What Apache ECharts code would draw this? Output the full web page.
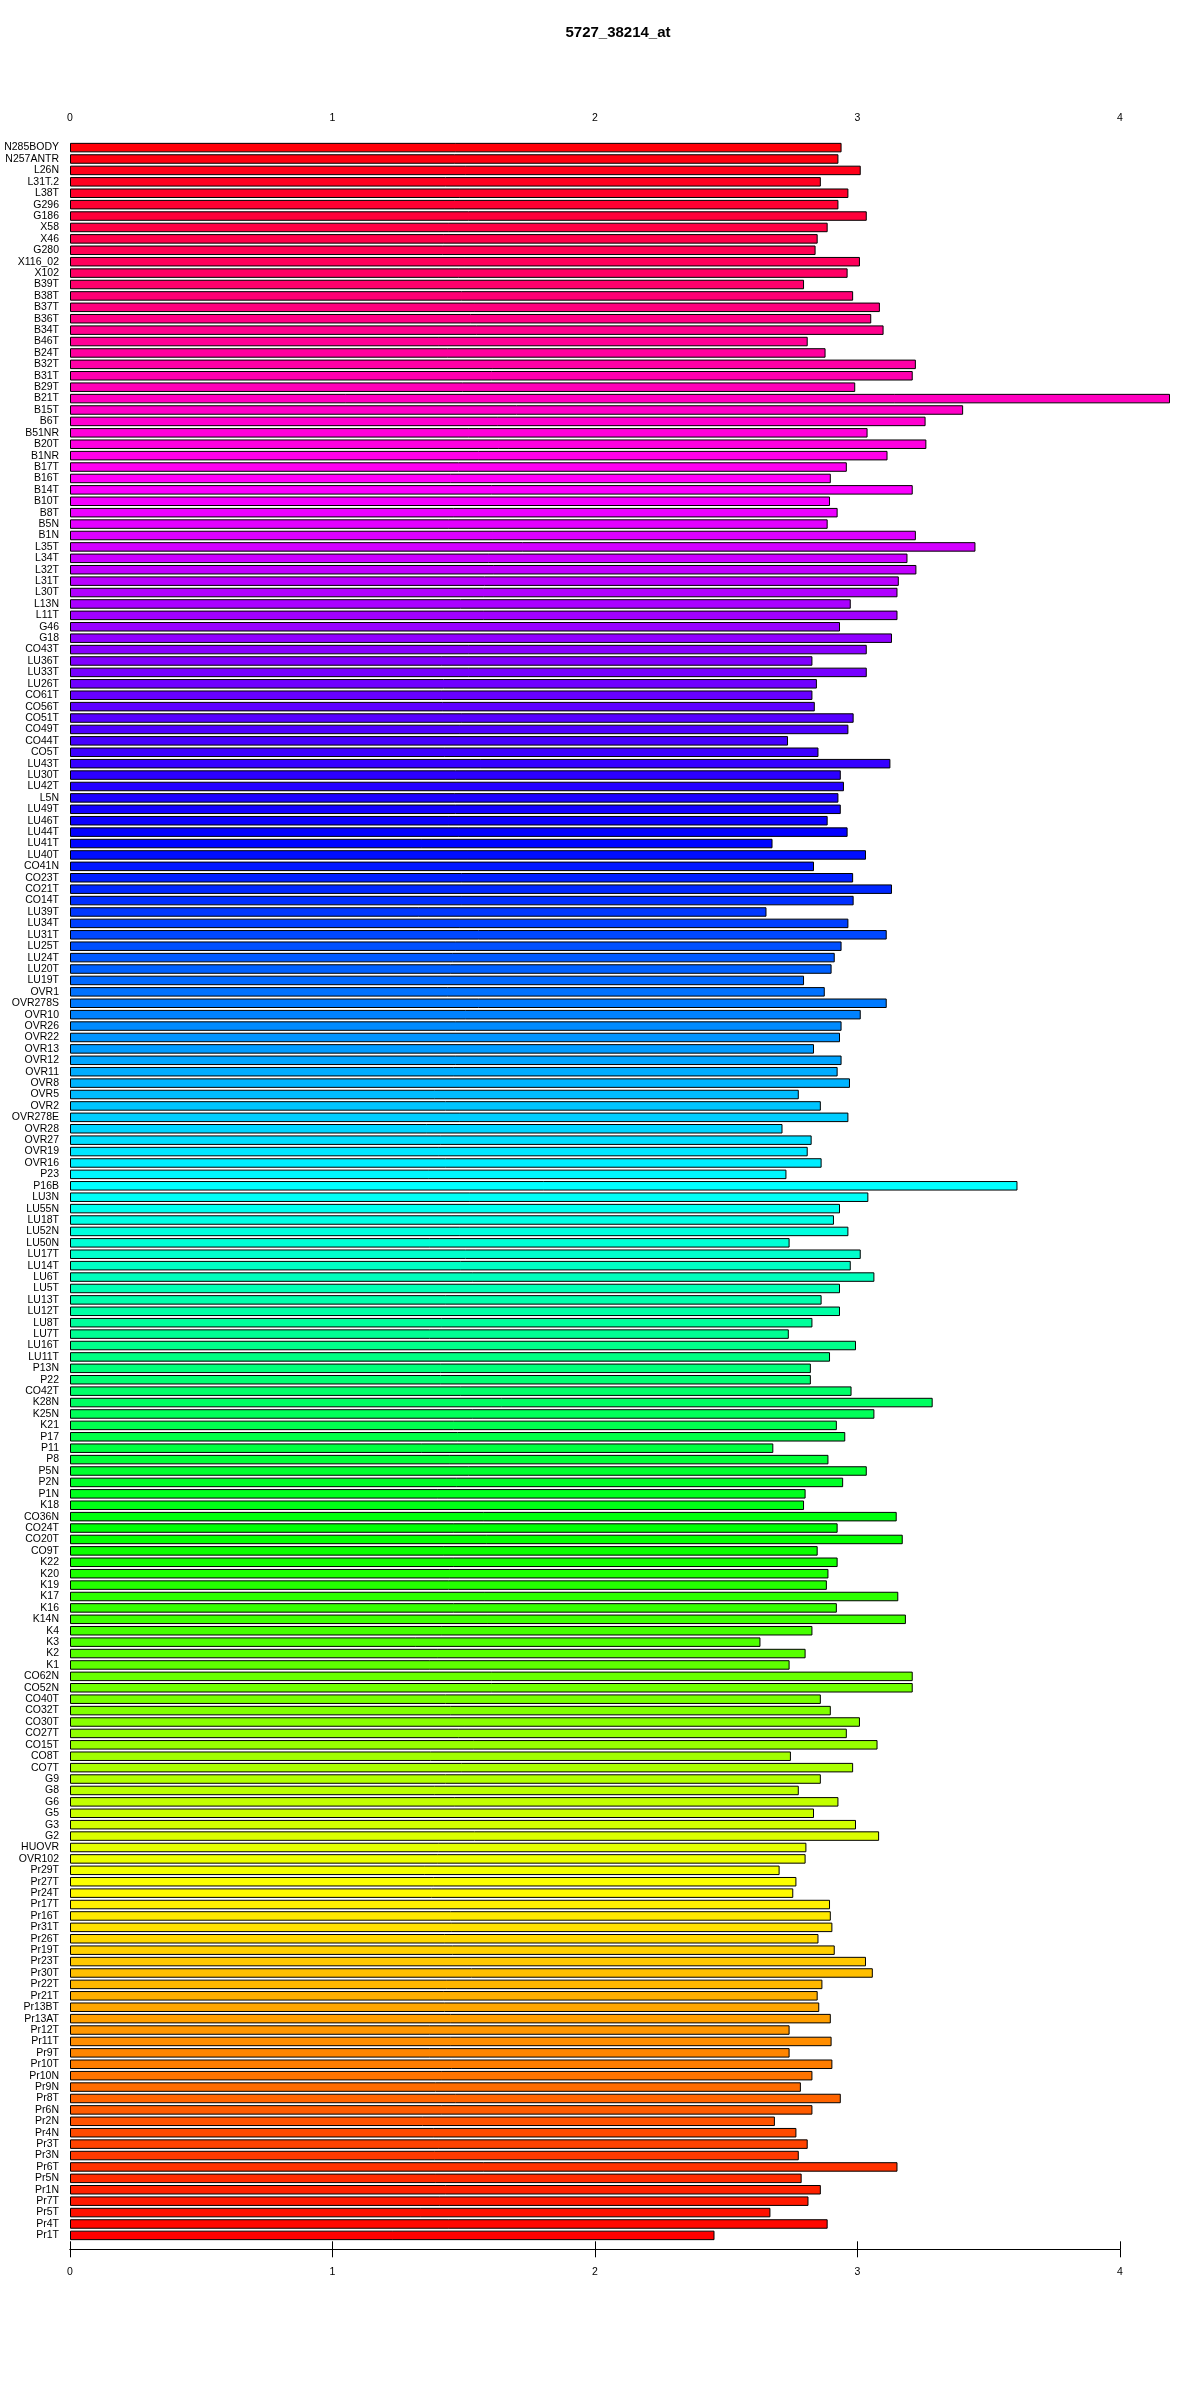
<!DOCTYPE html>
<html><head><meta charset="utf-8">
<script src="https://cdn.jsdelivr.net/npm/echarts@6/dist/echarts.min.js"></script>
<style>html,body{margin:0;padding:0;background:#fff}#c{width:1200px;height:2400px}</style>
</head><body><div id="c"></div>
<script>
const chartTitle = '5727_38214_at';
const categories = [
'N285BODY','N257ANTR','L26N','L31T.2','L38T','G296',
'G186','X58','X46','G280','X116_02','X102','B39T','B38T','B37T','B36T','B34T','B46T','B24T','B32T','B31T','B29T','B21T','B15T',
'B6T','B51NR','B20T','B1NR','B17T','B16T','B14T','B10T','B8T','B5N','B1N','L35T','L34T','L32T','L31T','L30T','L13N',
'L11T','G46','G18','CO43T','LU36T','LU33T','LU26T','CO61T','CO56T','CO51T','CO49T','CO44T','CO5T','LU43T','LU30T','LU42T','L5N',
'LU49T','LU46T','LU44T','LU41T','LU40T','CO41N','CO23T','CO21T','CO14T','LU39T','LU34T','LU31T','LU25T','LU24T','LU20T','LU19T','OVR1','OVR278S',
'OVR10','OVR26','OVR22','OVR13','OVR12','OVR11','OVR8','OVR5','OVR2','OVR278E','OVR28','OVR27','OVR19','OVR16','P23','P16B','LU3N',
'LU55N','LU18T','LU52N','LU50N','LU17T','LU14T','LU6T','LU5T','LU13T','LU12T','LU8T','LU7T','LU16T','LU11T','P13N','P22','CO42T','K28N',
'K25N','K21','P17','P11','P8','P5N','P2N','P1N','K18','CO36N','CO24T','CO20T','CO9T','K22','K20','K19','K17','K16',
'K14N','K4','K3','K2','K1','CO62N','CO52N','CO40T','CO32T','CO30T','CO27T','CO15T','CO8T','CO7T','G9','G8','G6',
'G5','G3','G2','HUOVR','OVR102','Pr29T','Pr27T','Pr24T','Pr17T','Pr16T','Pr31T','Pr26T','Pr19T','Pr23T','Pr30T','Pr22T','Pr21T','Pr13BT',
'Pr13AT','Pr12T','Pr11T','Pr9T','Pr10T','Pr10N','Pr9N','Pr8T','Pr6N','Pr2N','Pr4N','Pr3T','Pr3N','Pr6T','Pr5N','Pr1N','Pr7T',
'Pr5T','Pr4T','Pr1T'
];
const values = [
2.939,2.927,3.012,2.860,2.965,2.927,
3.035,2.886,2.848,2.840,3.009,2.962,2.796,2.983,3.085,3.052,3.099,2.810,2.878,3.222,3.210,2.991,4.190,3.402,
3.259,3.038,3.262,3.114,2.959,2.898,3.210,2.895,2.924,2.886,3.222,3.449,3.190,3.224,3.157,3.152,2.974,
3.152,2.933,3.131,3.035,2.828,3.035,2.845,2.828,2.837,2.985,2.965,2.735,2.851,3.125,2.936,2.948,2.927,
2.936,2.886,2.962,2.676,3.032,2.834,2.983,3.131,2.985,2.653,2.965,3.111,2.939,2.913,2.901,2.796,2.875,3.111,
3.012,2.939,2.933,2.834,2.939,2.924,2.971,2.776,2.860,2.965,2.714,2.825,2.810,2.863,2.729,3.609,3.041,
2.933,2.910,2.965,2.741,3.012,2.974,3.064,2.933,2.863,2.933,2.828,2.738,2.994,2.895,2.822,2.822,2.977,3.286,
3.064,2.921,2.953,2.679,2.889,3.035,2.945,2.802,2.796,3.149,2.924,3.172,2.848,2.924,2.889,2.883,3.155,2.921,
3.184,2.828,2.630,2.802,2.741,3.210,3.210,2.860,2.898,3.009,2.959,3.076,2.746,2.983,2.860,2.776,2.927,
2.834,2.994,3.082,2.805,2.802,2.703,2.767,2.755,2.895,2.898,2.904,2.851,2.913,3.032,3.058,2.866,2.848,2.854,
2.898,2.741,2.901,2.741,2.904,2.828,2.784,2.936,2.828,2.685,2.767,2.810,2.776,3.152,2.787,2.860,2.813,
2.668,2.886,2.455
];
const tickValues = [0, 1, 2, 3, 4];

function hsv(h) {
  h = ((h % 360) + 360) % 360;
  const c = 1, x = c * (1 - Math.abs((h / 60) % 2 - 1));
  let r, g, b;
  if (h < 60) [r, g, b] = [c, x, 0];
  else if (h < 120) [r, g, b] = [x, c, 0];
  else if (h < 180) [r, g, b] = [0, c, x];
  else if (h < 240) [r, g, b] = [0, x, c];
  else if (h < 300) [r, g, b] = [x, 0, c];
  else [r, g, b] = [c, 0, x];
  const t = v => Math.round(v * 255).toString(16).padStart(2, '0');
  return '#' + t(r) + t(g) + t(b);
}
const n = values.length;
const barData = values.map((v, i) => ({
  value: v,
  itemStyle: { color: hsv(360 * (n - 1 - i) / n) }
}));

const font = 'Liberation Sans, Arial, sans-serif';
const chart = echarts.init(document.getElementById('c'), null, { renderer: 'canvas' });
chart.setOption({
  backgroundColor: '#fff',
  animation: false,
  title: {
    text: chartTitle, left: 613, top: 20, textAlign: 'center',
    textStyle: { fontFamily: font, fontSize: 15, fontWeight: 'bold', color: '#000' }
  },
  grid: [
    { left: 70, right: 30, top: 141.9, height: 2099.2, containLabel: false },
    { left: 70, width: 1050, top: 136, height: 2113.3, containLabel: false }
  ],
  xAxis: [
    { gridIndex: 0, type: 'value', min: 0, max: 4.19, show: false },
    { gridIndex: 1, type: 'value', position: 'top', min: 0, max: 4, interval: 1,
      axisLine: { show: true, lineStyle: { color: '#000', width: 1 } },
      axisTick: { show: true, length: 8, lineStyle: { color: '#000' } },
      axisLabel: { show: true, margin: 12, color: '#000', fontFamily: font, fontSize: 10.5,
        customValues: tickValues },
      splitLine: { show: false } },
    { gridIndex: 1, type: 'value', position: 'bottom', min: 0, max: 4, interval: 1,
      axisLine: { show: true, lineStyle: { color: '#000', width: 1 } },
      axisTick: { show: true, length: 8, lineStyle: { color: '#000' } },
      axisLabel: { show: true, margin: 17, color: '#000', fontFamily: font, fontSize: 10.5 },
      splitLine: { show: false } }
  ],
  yAxis: [
    { gridIndex: 0, type: 'category', data: categories, inverse: true,
      axisLine: { show: false }, axisTick: { show: false },
      axisLabel: { interval: 0, margin: 11, color: '#000', fontFamily: font, fontSize: 10.5 } },
    { gridIndex: 1, type: 'value', show: false, min: 0, max: 1 }
  ],
  series: [{
    type: 'bar', xAxisIndex: 0, yAxisIndex: 0,
    data: barData,
    barCategoryGap: '16.7%',
    itemStyle: { borderColor: '#000', borderWidth: 1 }
  }]
});
</script>
</body></html>
